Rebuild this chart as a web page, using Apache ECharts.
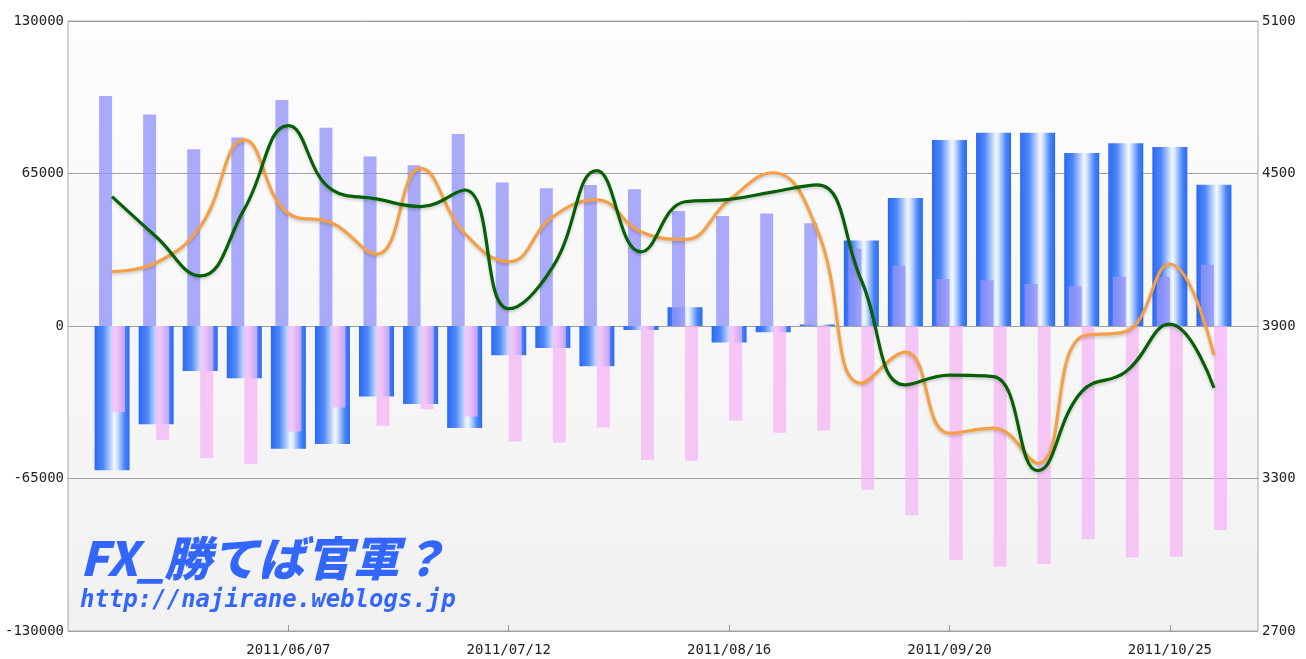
<!DOCTYPE html>
<html lang="ja">

<head>
    <title>FX 建玉推移</title>
    <meta charset="UTF-8">
    <script src="https://cdn.jsdelivr.net/npm/echarts@6/dist/echarts.min.js"></script>
    <style>
        html, body { margin: 0; padding: 0; background: #fff; }
    </style>
</head>

<body>
    <div id="main" style="width: 1306px;height:659px;"></div>
    <script>
        // 週ごとの日付 (先頭と末尾は余白用)
        const dates = ['2011/05/03', '2011/05/10', '2011/05/17', '2011/05/24', '2011/05/31', '2011/06/07',
            '2011/06/14', '2011/06/21', '2011/06/28', '2011/07/05', '2011/07/12', '2011/07/19', '2011/07/26',
            '2011/08/02', '2011/08/09', '2011/08/16', '2011/08/23', '2011/08/30', '2011/09/06', '2011/09/13',
            '2011/09/20', '2011/09/27', '2011/10/04', '2011/10/11', '2011/10/18', '2011/10/25', '2011/11/01',
            '2011/11/08'];

        // ネットポジション (青)
        const netPos = [-61500, -41900, -19200, -22300, -52300, -50300, -30100, -33200, -43500, -12500, -9400,
            -17200, -1700, 8000, -7000, -2700, 600, 36400, 54600, 79300, 82400, 82400, 73700, 77900, 76300, 60200];
        // ロング (紫)
        const longPos = [98000, 90200, 75300, 80300, 96300, 84500, 72200, 68500, 81800, 61200, 58700, 60100,
            58300, 49000, 46900, 47900, 43800, 32900, 25700, 20000, 19500, 17900, 16900, 21000, 21000, 26100];
        // ショート (ピンク)
        const shortPos = [-36800, -48600, -56300, -58800, -45000, -34700, -42500, -35500, -38600, -49200, -49700,
            -43300, -57000, -57400, -40300, -45500, -44600, -69800, -80700, -99700, -102600, -101400, -90900,
            -98700, -98300, -86900];
        // 右軸の線
        const greenLine = [4409, 4251, 4097, 4360, 4688, 4435, 4400, 4370, 4435, 3968, 4133, 4511, 4192, 4389,
            4398, 4428, 4455, 4080, 3668, 3707, 3701, 3331, 3642, 3720, 3907, 3657];
        const orangeLine = [4114, 4149, 4291, 4632, 4343, 4304, 4183, 4520, 4265, 4153, 4330, 4396, 4271, 4241,
            4396, 4503, 4278, 3675, 3797, 3478, 3498, 3360, 3858, 3878, 4144, 3786];

        const leftTicks = [-130000, -65000, 0, 65000, 130000];
        const rightTicks = [2700, 3300, 3900, 4500, 5100];

        // 先頭・末尾の余白カテゴリ分を null で埋める
        const pad = arr => [null].concat(arr, [null]);

        const labelFont = { color: '#222', fontFamily: 'DejaVu Sans Mono', fontSize: 14 };
        const showIdx = i => i > 0 && i % 5 === 0;

        const blueGrad = new echarts.graphic.LinearGradient(0, 0, 1, 0, [
            { offset: 0, color: '#2a69f5' },
            { offset: 0.25, color: '#4f88f7' },
            { offset: 0.57, color: '#f4f8ff' },
            { offset: 0.64, color: '#d8e6fe' },
            { offset: 0.86, color: '#4884f6' },
            { offset: 1, color: '#2a69f5' }
        ]);

        const lineShadow = {
            shadowColor: 'rgba(0,0,0,0.18)',
            shadowBlur: 3,
            shadowOffsetY: 2
        };

        var myChart = echarts.init(document.getElementById('main'));

        var option = {
            animation: false,
            grid: {
                left: 68,
                right: 48,
                top: 21,
                bottom: 28,
                show: true,
                borderColor: '#a8a8a8',
                borderWidth: 1,
                backgroundColor: new echarts.graphic.LinearGradient(0, 0, 0, 1, [
                    { offset: 0, color: '#fdfdfd' },
                    { offset: 1, color: '#f1f1f1' }
                ])
            },
            xAxis: [{
                type: 'category',
                data: dates,
                boundaryGap: false,
                axisLine: { show: false, onZero: false },
                axisTick: { show: true, inside: true, length: 6, interval: showIdx, lineStyle: { color: '#999' } },
                axisLabel: Object.assign({ interval: showIdx, margin: 12 }, labelFont)
            }, {
                type: 'category',
                data: dates,
                boundaryGap: false,
                show: false,
                axisLine: { onZero: false }
            }],
            yAxis: [{
                type: 'value',
                min: leftTicks[0],
                max: leftTicks[leftTicks.length - 1],
                interval: 65000,
                axisLine: { show: false },
                axisTick: { show: false },
                splitLine: { lineStyle: { color: '#a0a0a0' } },
                axisLabel: Object.assign({ margin: 4, formatter: v => String(v) }, labelFont)
            }, {
                type: 'value',
                min: rightTicks[0],
                max: rightTicks[rightTicks.length - 1],
                interval: 600,
                axisLine: { show: false },
                axisTick: { show: false },
                splitLine: { show: false },
                axisLabel: Object.assign({ margin: 4, formatter: v => String(v) }, labelFont)
            }],
            series: [{
                name: 'net',
                type: 'bar',
                xAxisIndex: 0,
                yAxisIndex: 0,
                barWidth: 35,
                z: 2,
                data: pad(netPos),
                itemStyle: { color: blueGrad }
            }, {
                name: 'long',
                type: 'bar',
                xAxisIndex: 1,
                yAxisIndex: 0,
                barWidth: 13,
                barGap: '0%',
                z: 3,
                data: pad(longPos),
                itemStyle: { color: 'rgba(148,148,250,0.78)' }
            }, {
                name: 'short',
                type: 'bar',
                xAxisIndex: 1,
                yAxisIndex: 0,
                barWidth: 13,
                barGap: '0%',
                z: 3,
                data: pad(shortPos),
                itemStyle: { color: 'rgba(245,178,245,0.7)' }
            }, {
                name: 'orange',
                type: 'line',
                xAxisIndex: 0,
                yAxisIndex: 1,
                smooth: 0.45,
                symbol: 'none',
                z: 4,
                data: pad(orangeLine),
                lineStyle: Object.assign({ color: '#f5a047', width: 3.2 }, lineShadow)
            }, {
                name: 'green',
                type: 'line',
                xAxisIndex: 0,
                yAxisIndex: 1,
                smooth: 0.45,
                symbol: 'none',
                z: 5,
                data: pad(greenLine),
                lineStyle: Object.assign({ color: '#066006', width: 3.2 }, lineShadow)
            }],
            graphic: [{
                type: 'text',
                x: 80,
                y: 535,
                z: 10,
                style: {
                    text: 'FX_勝てば官軍？',
                    font: 'italic 900 47px "Noto Sans CJK JP"',
                    fill: '#3366ff'
                }
            }, {
                type: 'text',
                x: 80,
                y: 589,
                z: 10,
                style: {
                    text: 'http://najirane.weblogs.jp',
                    font: 'italic bold 24px "DejaVu Sans Mono"',
                    fill: '#3366ff'
                }
            }]
        };

        myChart.setOption(option);
    </script>
</body>

</html>
